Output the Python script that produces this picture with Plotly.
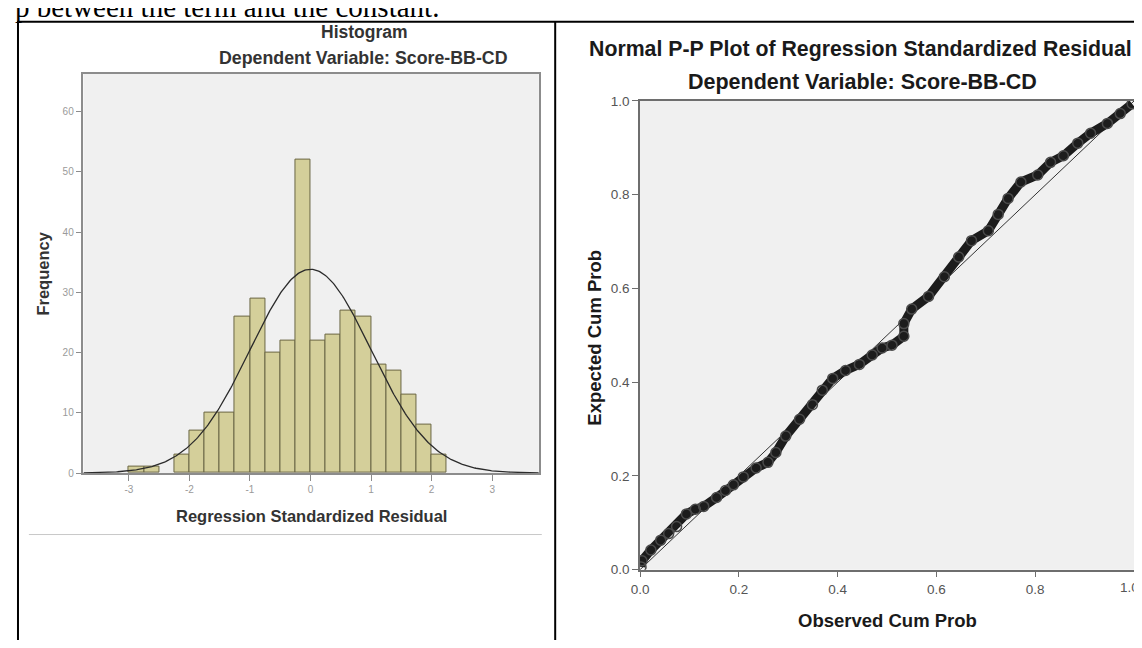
import numpy as np
import plotly.graph_objects as go

# The page adds an 8px body margin; the figure is sized to fill the rest of the window
OX, OY = 8, 8
W, H = 1134, 640

# ---------------- data ----------------
# Histogram of regression standardized residuals (bin start, width 0.25)
bin_start = [-3.0, -2.75, -2.5, -2.25, -2.0, -1.75, -1.5, -1.25, -1.0, -0.75,
             -0.5, -0.25, 0.0, 0.25, 0.5, 0.75, 1.0, 1.25, 1.5, 1.75, 2.0]
bin_width = 0.25
frequency = [1, 1, 0, 3, 7, 10, 10, 26, 29, 20,
             22, 52, 22, 23, 27, 26, 18, 17, 13, 8, 3]
resid_mean = 0.0
resid_sd = 0.997
resid_n = 338

hist_xticks = [-3, -2, -1, 0, 1, 2, 3]
hist_yticks = [0, 10, 20, 30, 40, 50, 60]

# Normal P-P plot points
observed_cum_prob = [0.002, 0.004, 0.022, 0.042, 0.058, 0.074, 0.094, 0.112, 0.129, 0.155,
                     0.173, 0.189, 0.209, 0.235, 0.259, 0.275, 0.295, 0.323, 0.349, 0.369,
                     0.390, 0.416, 0.444, 0.470, 0.490, 0.510, 0.534, 0.534, 0.550, 0.584,
                     0.616, 0.645, 0.671, 0.705, 0.725, 0.745, 0.771, 0.805, 0.831, 0.857,
                     0.886, 0.912, 0.946, 0.972, 0.996]
expected_cum_prob = [0.006, 0.019, 0.042, 0.063, 0.077, 0.092, 0.119, 0.129, 0.135, 0.154,
                     0.169, 0.181, 0.198, 0.217, 0.229, 0.250, 0.285, 0.321, 0.352, 0.383,
                     0.408, 0.425, 0.438, 0.458, 0.473, 0.479, 0.498, 0.525, 0.556, 0.583,
                     0.625, 0.667, 0.702, 0.723, 0.758, 0.792, 0.827, 0.842, 0.869, 0.883,
                     0.910, 0.931, 0.952, 0.973, 0.994]
pp_ticks = [0.0, 0.2, 0.4, 0.6, 0.8, 1.0]

# ---------------- helpers (window pixel -> paper) ----------------
def fx(px):
    return (px - OX) / W

def fy(py):
    return 1 - (py - OY) / H

SANS = "Liberation Sans, Arial, sans-serif"

fig = go.Figure()

# histogram bars
centers = [s + bin_width / 2 for s, f in zip(bin_start, frequency) if f > 0]
counts = [f for f in frequency if f > 0]
fig.add_trace(go.Bar(
    x=centers, y=counts, width=bin_width,
    marker=dict(color="#D4CF9A", line=dict(color="#6A6644", width=1)),
    xaxis="x", yaxis="y", showlegend=False, hoverinfo="skip"))

# normal curve
xs = np.linspace(-3.75, 3.77, 400)
ys = resid_n * bin_width / (resid_sd * np.sqrt(2 * np.pi)) * np.exp(-0.5 * ((xs - resid_mean) / resid_sd) ** 2)
fig.add_trace(go.Scatter(x=xs, y=ys, mode="lines", line=dict(color="#2b2b2b", width=1.3),
                         xaxis="x", yaxis="y", showlegend=False, hoverinfo="skip"))

# P-P reference diagonal
fig.add_trace(go.Scatter(x=[0, 1], y=[0, 1], mode="lines", line=dict(color="#333333", width=1),
                         xaxis="x2", yaxis="y2", showlegend=False, hoverinfo="skip"))
# P-P points
fig.add_trace(go.Scatter(
    x=observed_cum_prob, y=expected_cum_prob, mode="lines+markers",
    line=dict(color="#1c1c1c", width=9),
    marker=dict(symbol="circle-open", size=10, color="#4a4a4a", line=dict(width=1.5)),
    xaxis="x2", yaxis="y2", showlegend=False, hoverinfo="skip"))

# ---------------- axes ----------------
hist_left, hist_right, hist_top, hist_bottom = 75, 534, 68, 477
pp_left, pp_right, pp_top, pp_bottom = 636, 1134, 96, 576

TICKFONT_PP = dict(family=SANS, size=13.5, color="#555555")

fig.update_layout(
    width=W, height=H, margin=dict(l=0, r=0, t=0, b=0),
    paper_bgcolor="white", plot_bgcolor="#F0F0F0",
    bargap=0,
    xaxis=dict(domain=[fx(hist_left), fx(hist_right)], range=[-3.75, 3.77],
               tickvals=hist_xticks, ticktext=[str(v) for v in hist_xticks],
               showline=True, mirror=True, linecolor="#8c8c8c", linewidth=1.5,
               ticks="outside", ticklen=6, tickcolor="#8c8c8c", showgrid=False, zeroline=False,
               tickfont=dict(family=SANS, size=10, color="#9a9a9a"), anchor="y"),
    yaxis=dict(domain=[fy(hist_bottom), fy(hist_top)], range=[0, 66.3],
               tickvals=hist_yticks, showline=True, mirror=True, linecolor="#8c8c8c", linewidth=1.5,
               ticks="outside", ticklen=6, tickcolor="#8c8c8c", showgrid=False, zeroline=False,
               tickfont=dict(family=SANS, size=10, color="#9a9a9a"), anchor="x"),
    xaxis2=dict(domain=[fx(pp_left), fx(pp_right)], range=[0, 1],
                tickvals=pp_ticks, ticktext=[f"{v:.1f}" for v in pp_ticks],
                showline=True, mirror=True, linecolor="#6e6e6e", linewidth=1.5,
                ticks="outside", ticklen=6, tickcolor="#6e6e6e", showgrid=False, zeroline=False,
                tickfont=TICKFONT_PP, anchor="y2"),
    yaxis2=dict(domain=[fy(pp_bottom), fy(pp_top)], range=[0, 1],
                tickvals=pp_ticks, ticktext=[f"{v:.1f}" for v in pp_ticks],
                showline=True, mirror=True, linecolor="#6e6e6e", linewidth=1.5,
                ticks="outside", ticklen=6, tickcolor="#6e6e6e", showgrid=False, zeroline=False,
                tickfont=TICKFONT_PP, anchor="x2"),
)

# last x tick label of the P-P plot sits at the page edge: keep it inside the page
fig.add_annotation(text=f"{pp_ticks[-1]:.1f}", x=pp_ticks[-1], y=0, xref="x2", yref="y2",
                   xanchor="right", yanchor="top", xshift=7, yshift=-8, showarrow=False,
                   font=TICKFONT_PP)

# ---------------- text ----------------
def label(text, px, py, size, color="#222222", bold=True, angle=0, family=SANS, xanchor="center", yanchor="middle"):
    t = f"<b>{text}</b>" if bold else text
    fig.add_annotation(text=t, x=fx(px), y=fy(py), xref="paper", yref="paper",
                       showarrow=False, textangle=angle, xanchor=xanchor, yanchor=yanchor,
                       font=dict(family=family, size=size, color=color))

label("p between the term and the constant.", 4, 18, 29, color="#000000", bold=False,
      family="Liberation Serif, Times New Roman, serif", xanchor="left", yanchor="bottom")

label("Histogram", 358, 25, 17.5, color="#333333")
label("Dependent Variable: Score-BB-CD", 357, 52, 17.8, color="#333333")
label("Frequency", 34, 273, 16.5, color="#333333", angle=-90)
label("Regression Standardized Residual", 305, 521, 16.5, color="#333333")

label("Normal P-P Plot of Regression Standardized Residual", 858, 43, 21.3, color="#1a1a1a")
label("Dependent Variable: Score-BB-CD", 860, 77, 21.5, color="#1a1a1a")
label("Expected Cum Prob", 590, 338, 18.5, color="#1a1a1a", angle=-90)
label("Observed Cum Prob", 885, 628, 18.5, color="#1a1a1a")

# ---------------- table borders ----------------
def line(x0, y0, x1, y1, color="#000000", width=2):
    fig.add_shape(type="line", xref="paper", yref="paper",
                  x0=fx(x0), y0=fy(y0), x1=fx(x1), y1=fy(y1),
                  line=dict(color=color, width=width))

TOP = 15
line(8, TOP, 1142, TOP)
line(9, TOP, 9, 648)
line(550.5, TOP, 550.5, 648)
line(1141, TOP, 1141, 648)
line(20, 540, 537, 540, color="#c8c8c8", width=1)

fig.write_html("out.html")
